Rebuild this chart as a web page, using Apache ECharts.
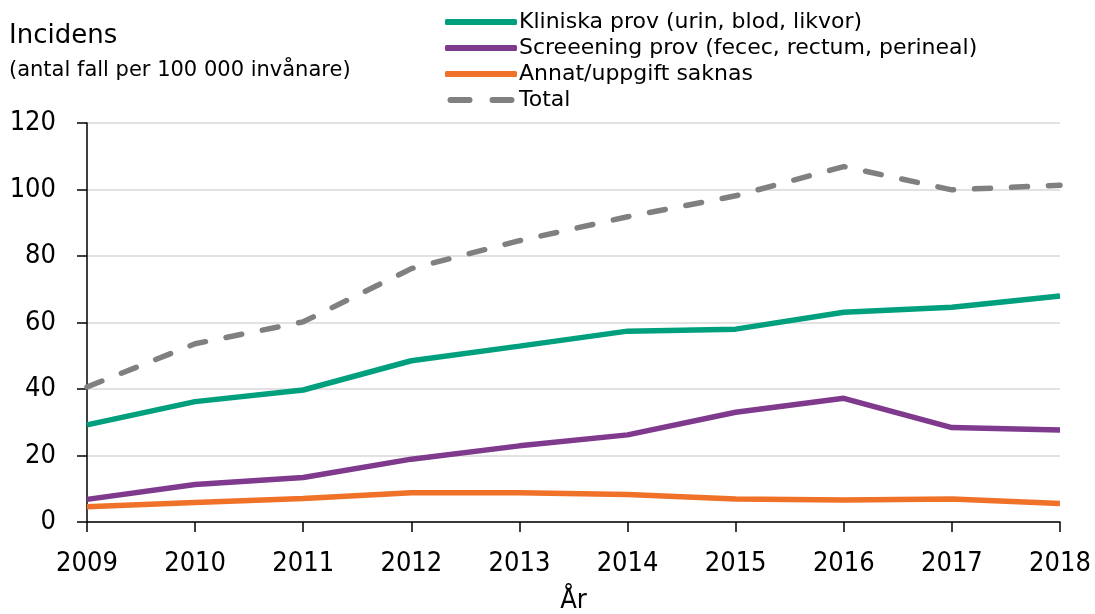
<!DOCTYPE html>
<html>
<head>
<meta charset="utf-8">
<script src="https://cdn.jsdelivr.net/npm/echarts@6/dist/echarts.min.js"></script>
<style>
html, body { margin: 0; padding: 0; background: #fff; }
#chart { width: 1095px; height: 614px; }
</style>
</head>
<body>
<div id="chart"></div>
<script>
var years = ['2009', '2010', '2011', '2012', '2013', '2014', '2015', '2016', '2017', '2018'];
var kliniska = [29.2, 36.2, 39.7, 48.5, 52.9, 57.4, 58.0, 63.1, 64.6, 68.0];
var screening = [6.8, 11.3, 13.4, 18.9, 22.9, 26.2, 33.0, 37.2, 28.4, 27.7];
var annat = [4.6, 5.9, 7.1, 8.8, 8.8, 8.3, 6.9, 6.6, 6.9, 5.6];
var total = [40.6, 53.6, 60.2, 76.2, 84.6, 91.8, 98.1, 106.9, 99.9, 101.3];

var font = "'DejaVu Sans', sans-serif";
var numFont = "'DejaVu Sans Condensed', 'DejaVu Sans', sans-serif";

var chart = echarts.init(document.getElementById('chart'));

function lineSerie(name, data, color, dashed) {
    return {
        name: name,
        type: 'line',
        data: data,
        symbol: 'none',
        lineStyle: {
            color: color,
            width: 5.5,
            type: dashed ? [16, 21] : 'solid',
            cap: dashed ? 'round' : 'butt'
        },
        itemStyle: { color: color },
        emphasis: { disabled: true }
    };
}

var option = {
    animation: false,
    textStyle: { fontFamily: font },
    title: [
        { text: 'Incidens', left: 9, top: 23, padding: 0, textStyle: { fontFamily: font, fontSize: 26, fontWeight: 'normal', color: '#000' } },
        { text: '(antal fall per 100 000 invånare)', left: 9, top: 60, padding: 0, textStyle: { fontFamily: font, fontSize: 21, fontWeight: 'normal', color: '#000' } }
    ],
    legend: {
        orient: 'vertical',
        left: 445,
        top: 11,
        padding: 0,
        itemWidth: 72,
        itemHeight: 6,
        itemGap: 4,
        textStyle: { fontFamily: font, fontSize: 22, color: '#000', padding: [0, 0, 0, -3], lineHeight: 22 },
        data: [
            { name: 'Kliniska prov (urin, blod, likvor)', icon: 'roundRect' },
            { name: 'Screeening prov (fecec, rectum, perineal)', icon: 'roundRect' },
            { name: 'Annat/uppgift saknas', icon: 'roundRect' },
            { name: 'Total', icon: 'path://M3,0h19a3,3 0 0 1 0,6h-19a3,3 0 0 1 0,-6z M45,0h19a3,3 0 0 1 0,6h-19a3,3 0 0 1 0,-6z' }
        ]
    },
    grid: { left: 87, right: 35, top: 123, bottom: 92, containLabel: false, outerBoundsMode: 'none' },
    xAxis: {
        type: 'category',
        data: years,
        boundaryGap: false,
        name: 'År',
        nameLocation: 'middle',
        nameGap: 65,
        nameTextStyle: { fontFamily: numFont, fontSize: 27, color: '#000' },
        axisLine: { lineStyle: { color: '#000', width: 1.5 } },
        axisTick: { show: true, length: 10, inside: false, lineStyle: { color: '#000', width: 1.5 } },
        axisLabel: { fontFamily: numFont, fontSize: 27, color: '#000', margin: 28 },
        splitLine: { show: false }
    },
    yAxis: {
        type: 'value',
        min: 0,
        max: 120,
        interval: 20,
        axisLine: { show: true, lineStyle: { color: '#000', width: 1.5 } },
        axisTick: { show: true, length: 10, lineStyle: { color: '#000', width: 1.5 } },
        axisLabel: { fontFamily: numFont, fontSize: 27, color: '#000', margin: 31 },
        splitLine: { show: true, lineStyle: { color: '#d9d9d9', width: 1.5 } }
    },
    series: [
        lineSerie('Kliniska prov (urin, blod, likvor)', kliniska, '#00a07e', false),
        lineSerie('Screeening prov (fecec, rectum, perineal)', screening, '#7f3a8e', false),
        lineSerie('Annat/uppgift saknas', annat, '#f07128', false),
        lineSerie('Total', total, '#808080', true)
    ]
};

chart.setOption(option);
</script>
</body>
</html>
